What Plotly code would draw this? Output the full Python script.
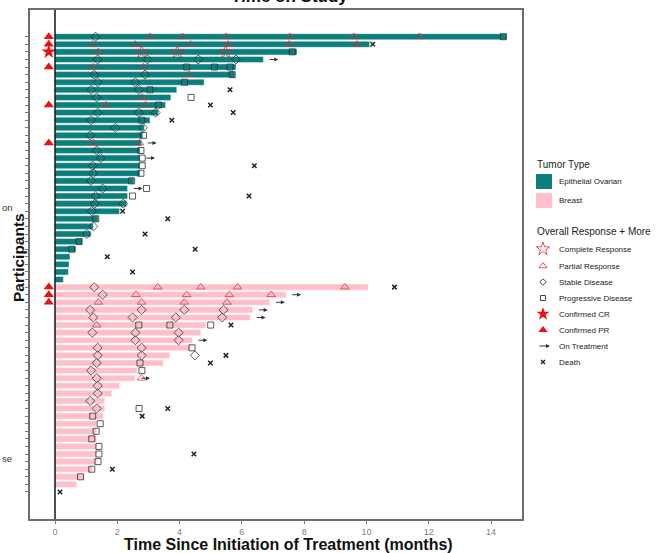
import plotly.graph_objects as go

# ---------------- data ----------------
# time on study (months) for each participant, listed top to bottom
ovarian_months = [14.5, 10.1, 7.77, 6.69, 5.81, 5.78, 4.79, 3.91, 3.72, 3.55,
                  3.32, 3.05, 2.87, 2.82, 2.78, 2.73, 2.73, 2.73, 2.73, 2.54,
                  2.33, 2.33, 2.30, 2.07, 1.39, 1.23, 1.15, 0.88, 0.67, 0.48,
                  0.45, 0.43, 0.27]
breast_months = [10.05, 7.42, 6.90, 6.35, 6.28, 4.85, 4.68, 4.41, 4.34, 3.69,
                 3.48, 2.64, 2.57, 2.07, 1.82, 1.60, 1.60, 1.55, 1.34, 1.34,
                 1.34, 1.34, 1.34, 1.34, 1.20, 0.91, 0.70, 0.0]

# assessments: (participant row, month)
complete_response = [(3, 2.78), (3, 3.93), (3, 5.48)]
partial_response = [
    (1, 3.05), (1, 4.1), (1, 5.5), (1, 7.55), (1, 9.6), (1, 11.7),
    (2, 1.2), (2, 2.57), (2, 4.35), (2, 5.56), (2, 7.52), (2, 9.7),
    (3, 1.39), (5, 1.23), (5, 2.84), (6, 4.31), (9, 2.8), (10, 1.63), (10, 2.91),
    (15, 1.23), (15, 2.71),
    (34, 3.3), (34, 4.68), (34, 5.86), (34, 9.31),
    (35, 2.6), (35, 4.23), (35, 5.6), (35, 6.94),
    (36, 1.39), (36, 2.78), (36, 4.15), (36, 5.52),
    (39, 1.34), (46, 2.78),
]
stable_disease = [
    (1, 1.3), (4, 1.37), (4, 2.97), (4, 4.6), (4, 5.81), (6, 1.26), (6, 2.89),
    (7, 1.37), (7, 2.58), (8, 1.16), (8, 2.69), (9, 1.34),
    (11, 1.37), (11, 2.69), (11, 3.23), (12, 1.16), (13, 1.94), (13, 2.82),
    (14, 1.13), (16, 1.34), (17, 1.47), (18, 1.21), (19, 1.23), (20, 1.15),
    (21, 1.53), (22, 1.31), (23, 1.28), (23, 2.19), (24, 1.18), (26, 1.23),
    (27, 1.02),
    (34, 1.26), (35, 1.53), (37, 1.13), (37, 2.78), (37, 4.15), (37, 5.41),
    (38, 1.23), (38, 2.49), (38, 3.88), (38, 5.37), (40, 1.2), (40, 2.58),
    (40, 3.97), (41, 2.58), (41, 3.97), (42, 1.37), (42, 2.78), (43, 1.37),
    (43, 2.78), (43, 4.49), (44, 1.34), (45, 1.16), (46, 1.34), (47, 1.37),
    (48, 1.37), (49, 1.13), (50, 1.34),
]
progressive_disease = [
    (1, 14.4), (3, 7.62), (5, 4.23), (5, 5.12), (5, 5.62), (6, 5.69), (7, 4.16),
    (8, 3.05), (9, 4.37), (10, 3.32), (12, 2.79), (14, 2.84), (16, 2.76),
    (17, 2.8), (18, 2.8), (19, 2.76), (20, 2.46), (21, 2.94), (22, 2.49),
    (25, 1.31), (28, 0.77), (29, 0.54),
    (39, 2.69), (39, 3.69), (39, 5.0), (42, 4.4), (44, 2.73), (45, 2.79),
    (50, 2.7), (51, 1.21), (52, 1.45), (53, 1.32), (54, 1.18), (55, 1.41),
    (56, 1.41), (57, 1.38), (58, 1.18), (59, 0.82),
]
death = [
    (2, 10.2), (8, 5.62), (10, 4.99), (11, 5.72), (12, 3.75), (18, 6.4),
    (22, 6.23), (24, 2.17), (25, 3.62), (27, 2.89), (29, 4.5), (30, 1.68),
    (32, 2.49), (34, 10.9), (39, 5.65), (43, 5.49), (44, 4.99), (50, 3.62),
    (51, 2.8), (56, 4.46), (58, 1.84), (61, 0.16),
]
confirmed_cr_rows = [3]
confirmed_pr_rows = [1, 2, 5, 10, 15, 34, 35, 36]
on_treatment_rows = [4, 15, 17, 21, 35, 36, 37, 38, 41, 46]

TEAL = "#0b7f7e"
PINK = "#ffc0cb"
RED = "rgba(226,38,48,0.8)"
GREY = "rgba(40,40,40,0.85)"
FONT = "Liberation Sans, Arial, sans-serif"

W, H = 657, 553
# panel edges in pixels and the month scale
PX_LEFT, PX_RIGHT, PY_TOP, PY_BOTTOM = 30, 522, 10, 519
PX_ZERO, PX_PER_MONTH = 55, 436 / 14

months = ovarian_months + breast_months
n_rows = len(months)


def ypos(row):
    return n_rows + 1 - row


def px_x(px):
    return px / W


def px_y(py):
    return 1 - py / H


fig = go.Figure()

# bars
ov_rows = list(range(1, len(ovarian_months) + 1))
br_rows = list(range(len(ovarian_months) + 1, n_rows + 1))
fig.add_trace(go.Bar(x=ovarian_months, y=[ypos(r) for r in ov_rows], orientation="h",
                     width=0.8, marker=dict(color=TEAL, line=dict(color="white", width=0.4)),
                     name="Epithelial Ovarian", showlegend=False))
fig.add_trace(go.Bar(x=breast_months, y=[ypos(r) for r in br_rows], orientation="h",
                     width=0.8, marker=dict(color=PINK, line=dict(color="white", width=0.4)),
                     name="Breast", showlegend=False))


def add_points(pairs, symbol, size, color, lw=1.0, name=""):
    fig.add_trace(go.Scatter(
        x=[m for _, m in pairs], y=[ypos(r) for r, _ in pairs], mode="markers",
        marker=dict(symbol=symbol, size=size, color=color,
                    line=dict(color=color, width=lw)),
        name=name, showlegend=False, cliponaxis=False))


add_points(stable_disease, "diamond-open", 7, GREY, lw=0.9, name="Stable Disease")
add_points(progressive_disease, "square-open", 6, GREY, lw=0.9, name="Progressive Disease")
add_points(partial_response, "triangle-up-open", 7.5, RED, lw=0.9, name="Partial Response")
add_points(complete_response, "star-open", 10, RED, lw=0.9, name="Complete Response")
add_points(death, "x-thin", 4.5, "#222", lw=1.5, name="Death")

# confirmed responses flagged left of the zero line
CONF_X = -0.2
add_points([(r, CONF_X) for r in confirmed_pr_rows], "triangle-up", 9, "#ee1111", lw=0, name="Confirmed PR")
add_points([(r, CONF_X) for r in confirmed_cr_rows], "star", 11, "#ee1111", lw=0, name="Confirmed CR")

annotations = []
# still on treatment: arrows following the bar end
for r in on_treatment_rows:
    end = months[r - 1]
    annotations.append(dict(x=end + 0.48, y=ypos(r), ax=end + 0.15, ay=ypos(r),
                            xref="x", yref="y", axref="x", ayref="y", text="",
                            showarrow=True, arrowhead=2, arrowsize=0.8, arrowwidth=1,
                            arrowcolor="#333", standoff=0, startstandoff=0))

xmin = (PX_LEFT - PX_ZERO) / PX_PER_MONTH
xmax = (PX_RIGHT - PX_ZERO) / PX_PER_MONTH
ymin = (1 - 3.56)
ymax = n_rows + 3.52

# ---------------- legend (drawn in a pixel-space inset) ----------------
LX0 = 525
leg_axis = dict(domain=[LX0 / W, 1], range=[LX0, W], visible=False, fixedrange=True)
leg_yaxis = dict(domain=[0, 1], range=[H, 0], visible=False, fixedrange=True)

legend_marks = [
    ("Complete Response", 249, "star-open", 10, RED, 1.0),
    ("Partial Response", 266, "triangle-up-open", 7, RED, 1.0),
    ("Stable Disease", 282, "diamond-open", 5, GREY, 1.0),
    ("Progressive Disease", 298, "square-open", 5, GREY, 1.0),
    ("Confirmed CR", 314, "star", 10, "#ee1111", 0),
    ("Confirmed PR", 330, "triangle-up", 8, "#ee1111", 0),
    ("Death", 362, "x-thin", 4, "#222", 1.4),
]
LEG_FONT = dict(size=8, color="#222")
for label, py, sym, sz, col, lw in legend_marks:
    fig.add_trace(go.Scatter(x=[543], y=[py], xaxis="x2", yaxis="y2", mode="markers",
                             marker=dict(symbol=sym, size=sz, color=col, line=dict(color=col, width=lw)),
                             showlegend=False, hoverinfo="skip"))
    annotations.append(dict(x=557, y=py, xref="x2", yref="y2", text=label, showarrow=False,
                            xanchor="left", yanchor="middle", font=LEG_FONT))
annotations.append(dict(x=550, y=346, ax=538, ay=346, xref="x2", yref="y2", axref="x2", ayref="y2",
                        text="", showarrow=True, arrowhead=2, arrowsize=0.8, arrowwidth=1,
                        arrowcolor="#333", standoff=0))
annotations.append(dict(x=557, y=346, xref="x2", yref="y2", text="On Treatment", showarrow=False,
                        xanchor="left", yanchor="middle", font=LEG_FONT))

shapes = [
    # zero line
    dict(type="line", xref="x", yref="paper", x0=0, x1=0, y0=px_y(PY_BOTTOM), y1=px_y(PY_TOP),
         line=dict(color="#111", width=1.5)),
    # tumor type keys
    dict(type="rect", xref="x2", yref="y2", x0=536, x1=552, y0=174, y1=189,
         fillcolor=TEAL, line=dict(width=0)),
    dict(type="rect", xref="x2", yref="y2", x0=536, x1=552, y0=193, y1=208,
         fillcolor=PINK, line=dict(width=0)),
]
for text, py in [("Epithelial Ovarian", 181.5), ("Breast", 200.5)]:
    annotations.append(dict(x=557, y=py, xref="x2", yref="y2", text=text, showarrow=False,
                            xanchor="left", yanchor="middle", font=LEG_FONT))
for text, py in [("Tumor Type", 164), ("Overall Response + More", 231)]:
    annotations.append(dict(x=535, y=py, xref="x2", yref="y2", text=text, showarrow=False,
                            xanchor="left", yanchor="middle", font=dict(size=10, color="#222")))

# titles
annotations += [
    dict(x=px_x(289), y=px_y(-4), xref="paper", yref="paper", text="<b>Time on Study</b>",
         showarrow=False, xanchor="center", yanchor="middle", font=dict(size=17, color="#111")),
    dict(x=px_x(288), y=px_y(544), xref="paper", yref="paper",
         text="<b>Time Since Initiation of Treatment (months)</b>", showarrow=False,
         xanchor="center", yanchor="middle", font=dict(size=16, color="#111")),
    dict(x=px_x(18), y=px_y(258), xref="paper", yref="paper", text="<b>Participants</b>",
         showarrow=False, textangle=-90, xanchor="center", yanchor="middle",
         font=dict(size=15.5, color="#111")),
    dict(x=0, y=px_y(208), xref="paper", yref="paper", text="on", showarrow=False,
         xanchor="left", yanchor="middle", font=dict(size=9.5, color="#333")),
    dict(x=0, y=px_y(458), xref="paper", yref="paper", text="se", showarrow=False,
         xanchor="left", yanchor="middle", font=dict(size=9.5, color="#333")),
]

fig.update_layout(
    width=W, height=H, margin=dict(l=0, r=0, t=0, b=0),
    paper_bgcolor="white", plot_bgcolor="white",
    font=dict(family=FONT),
    showlegend=False, barmode="overlay",
    xaxis=dict(domain=[px_x(PX_LEFT), px_x(PX_RIGHT)], range=[xmin, xmax],
               tickvals=list(range(0, 15, 2)), ticks="outside", ticklen=3,
               tickcolor="#777", tickfont=dict(size=9, color="#808080"),
               showgrid=False, zeroline=False, showline=True, linecolor="#6e6e6e",
               linewidth=1.5, mirror=True),
    yaxis=dict(domain=[px_y(PY_BOTTOM), px_y(PY_TOP)], range=[ymin, ymax],
               tickvals=[ypos(r) for r in range(1, n_rows + 1)], ticks="outside",
               ticklen=3, tickcolor="#777", showticklabels=False,
               showgrid=False, zeroline=False, showline=True, linecolor="#6e6e6e",
               linewidth=1.5, mirror=True),
    xaxis2=dict(anchor="y2", **leg_axis),
    yaxis2=dict(anchor="x2", **leg_yaxis),
    shapes=shapes, annotations=annotations,
)

fig.write_html("out.html")
